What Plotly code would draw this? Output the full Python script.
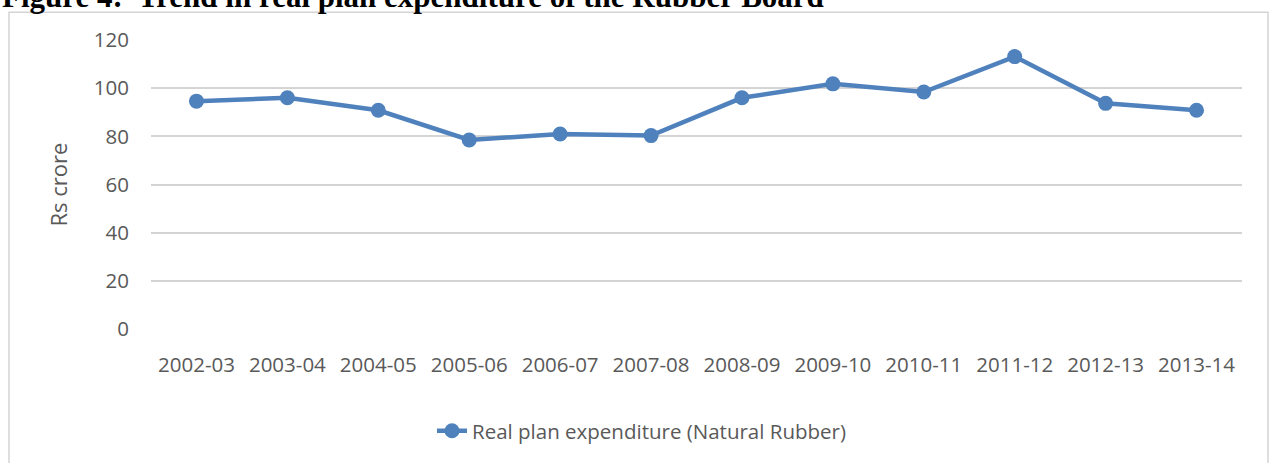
import plotly.graph_objects as go

years = ["2002-03", "2003-04", "2004-05", "2005-06", "2006-07", "2007-08",
         "2008-09", "2009-10", "2010-11", "2011-12", "2012-13", "2013-14"]
expenditure = [94.6, 96.0, 90.8, 78.5, 81.0, 80.3, 96.0, 101.8, 98.4, 113.1, 93.7, 90.8]
y_ticks = [0, 20, 40, 60, 80, 100, 120]

W, H = 1269, 463
L, R, T, B = 151, 27, 40, 131
pw, ph = W - L - R, H - T - B

def px_x(p):
    return (p - L) / pw

def px_y(p):
    return (H - B - p) / ph

BLUE = "#4F81BD"
GRAY = "#595959"
FONT = "Open Sans"

fig = go.Figure()
fig.add_trace(go.Scatter(
    x=years, y=expenditure, mode="lines+markers",
    name="Real plan expenditure (Natural Rubber)",
    line=dict(color=BLUE, width=4.5),
    marker=dict(color=BLUE, size=15),
))

fig.update_layout(
    width=W, height=H,
    margin=dict(l=L, r=R, t=T, b=B),
    paper_bgcolor="white", plot_bgcolor="white",
    font=dict(family=FONT, color=GRAY, size=20),
    showlegend=True,
    legend=dict(orientation="h", x=px_x(642), xanchor="center",
                y=px_y(435), yanchor="middle",
                font=dict(family=FONT, size=20.5, color=GRAY)),
    xaxis=dict(type="category", range=[-0.5, 11.5], showgrid=False,
               showline=False, zeroline=False, ticks="",
               tickfont=dict(family=FONT, size=20.5, color=GRAY),
               ticklabelstandoff=21),
    yaxis=dict(range=[0, 120], tickvals=y_ticks, showgrid=True,
               gridcolor="#d4d4d4", gridwidth=1.5, zeroline=False,
               showline=False, ticks="",
               tickfont=dict(family=FONT, size=20.5, color=GRAY),
               ticklabelstandoff=21,
               title=dict(text="Rs crore", standoff=20,
                          font=dict(family=FONT, size=22, color=GRAY))),
    shapes=[dict(type="rect", xref="paper", yref="paper",
                 x0=px_x(9), x1=px_x(1268), y0=px_y(475), y1=px_y(12),
                 line=dict(color="#d4d4d4", width=1.5), layer="below")],
    annotations=[dict(text="<b>Figure 4:  Trend in real plan expenditure of the Rubber Board</b>",
                      xref="paper", yref="paper", x=px_x(0), xanchor="left",
                      y=px_y(16), yanchor="bottom", showarrow=False,
                      font=dict(family="Liberation Serif", size=31, color="black"))],
)

fig.write_html("out.html")
